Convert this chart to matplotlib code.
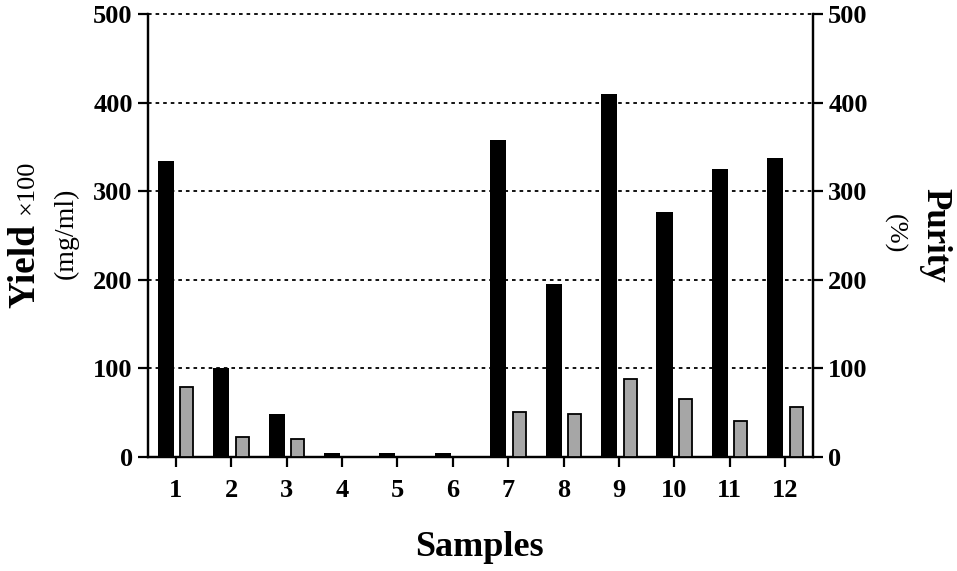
import numpy as np
import matplotlib
matplotlib.use('Agg')
import matplotlib.pyplot as plt

plt.rcParams['font.family'] = ['Liberation Serif', 'DejaVu Serif']

samples = [str(i) for i in range(1, 13)]
yield_vals = [334, 100, 48, 5, 5, 5, 358, 195, 410, 277, 325, 337]
purity_vals = [79, 23, 20, 0, 0, 0, 51, 49, 88, 65, 41, 56]
y_ticks = [0, 100, 200, 300, 400, 500]

W, H = 957, 571
fig = plt.figure(figsize=(W / 100, H / 100), dpi=100)
ax = fig.add_axes([148 / W, 1 - 457 / H, (813 - 148) / W, (457 - 14) / H])
ax2 = ax.twinx()

x = np.arange(1, 13)
ax.bar(x - 0.18, yield_vals, width=0.29, color='black', zorder=3)
ax2.bar(x + 0.2, purity_vals, width=0.235, color='#a6a6a6',
        edgecolor='black', linewidth=1.3, zorder=3)

for a in (ax, ax2):
    a.set_ylim(0, 500)
    a.set_xlim(0.5, 12.5)
    a.set_yticks(y_ticks)
    a.spines['top'].set_visible(False)
    for s in a.spines.values():
        s.set_linewidth(1.6)
    a.tick_params(axis='y', direction='out', length=7, width=1.6, pad=4, labelsize=19)
    for lab in a.get_yticklabels():
        lab.set_fontweight('bold')

ax.set_xticks(x)
ax.set_xticklabels(samples, fontweight='bold')
ax.tick_params(axis='x', direction='out', length=7, width=1.6, pad=9, labelsize=19)
ax.set_zorder(ax2.get_zorder() - 1)
ax.patch.set_visible(False)
ax2.patch.set_visible(False)

for v in y_ticks[1:]:
    ax.axhline(v, color='black', linestyle=(0, (2, 2.2)), linewidth=1.3,
               zorder=1, clip_on=False)


def px(xp, yp):
    return xp / W, 1 - yp / H


fig.text(*px(25, 266), 'Yield', rotation=90, ha='center', va='center',
         fontsize=27, fontweight='bold')
fig.text(*px(27, 187), '×100', rotation=90, ha='center', va='center', fontsize=19)
fig.text(*px(66, 233), '(mg/ml)', rotation=90, ha='center', va='center', fontsize=20)
fig.text(*px(935, 235), 'Purity', rotation=-90, ha='center', va='center',
         fontsize=25, fontweight='bold')
fig.text(*px(894, 234), '(%)', rotation=-90, ha='center', va='center', fontsize=19)
fig.text(*px(479, 547), 'Samples', ha='center', va='center',
         fontsize=26, fontweight='bold')

fig.savefig('out.png', dpi=100)
